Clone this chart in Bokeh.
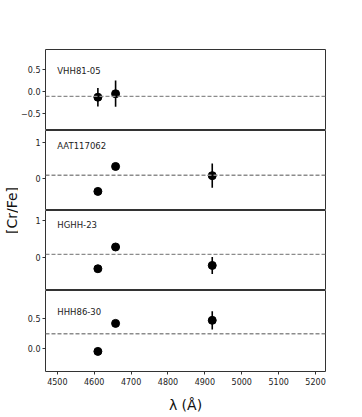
import math
from bokeh.plotting import figure
from bokeh.layouts import row, column
from bokeh.models import FixedTicker, Label, Span, ColumnDataSource
from bokeh.embed import file_html
from bokeh.resources import INLINE

# ---- data ----
stars = ["VHH81-05", "AAT117062", "HGHH-23", "HHH86-30"]
wl_vhh = [4610, 4658]
cr_vhh = [-0.13, -0.05]
err_vhh = [0.21, 0.30]
wl_aat = [4610, 4658, 4920]
cr_aat = [-0.34, 0.34, 0.09]
err_aat = [0.0, 0.0, 0.33]
wl_hghh = [4610, 4658, 4920]
cr_hghh = [-0.30, 0.29, -0.21]
err_hghh = [0.0, 0.0, 0.23]
wl_hhh = [4610, 4658, 4920]
cr_hhh = [-0.04, 0.42, 0.47]
err_hhh = [0.0, 0.0, 0.15]
means = [-0.11, 0.10, 0.09, 0.25]
y_ranges = [(-0.89, 0.96), (-0.86, 1.32), (-0.89, 1.28), (-0.37, 0.96)]
y_ticks = [[-0.5, 0.0, 0.5], [0, 1], [0, 1], [0.0, 0.5]]
y_tick_labels = [["\u22120.5", "0.0", "0.5"], ["0", "1"], ["0", "1"], ["0.0", "0.5"]]
label_y = [0.48, 0.9, 0.88, 0.61]
x_ticks = [4500, 4600, 4700, 4800, 4900, 5000, 5100, 5200]
x_range = (4468, 5227)

series = [(wl_vhh, cr_vhh, err_vhh), (wl_aat, cr_aat, err_aat),
          (wl_hghh, cr_hghh, err_hghh), (wl_hhh, cr_hhh, err_hhh)]

FONT = "DejaVu Sans"
frame_heights = [81, 80, 80, 81]
TOP = 49
BOTTOM = 42
figs = []
for i, name in enumerate(stars):
    last = (i == 3)
    first = (i == 0)
    p = figure(output_backend="svg", toolbar_location=None,
               frame_width=280, frame_height=frame_heights[i],
               x_range=x_range, y_range=y_ranges[i],
               min_border_left=27, min_border_right=10,
               min_border_top=TOP if first else 0,
               min_border_bottom=BOTTOM if last else 0)
    p.background_fill_color = "white"
    p.border_fill_color = "white"
    p.outline_line_color = "#333333"
    p.outline_line_width = 1
    p.outline_line_alpha = 1
    p.grid.visible = False

    wl, cr, er = series[i]
    lo = [c - e for c, e in zip(cr, er)]
    hi = [c + e for c, e in zip(cr, er)]
    src = ColumnDataSource(dict(x=wl, y=cr, lo=lo, hi=hi))
    p.add_layout(Span(location=means[i], dimension="width", line_color="#8c8c8c",
                      line_width=1.3, line_dash="4 2"))
    p.segment(x0="x", y0="lo", x1="x", y1="hi", source=src, line_color="black", line_width=1.6)
    p.scatter(x="x", y="y", source=src, size=8, color="black")

    p.add_layout(Label(x=4500, y=label_y[i], text=name, text_font=FONT,
                       text_font_size="8.5px", text_color="#222222",
                       text_align="left", text_baseline="middle"))

    ya = p.yaxis[0]
    ya.ticker = FixedTicker(ticks=y_ticks[i])
    ya.major_label_overrides = {t: l for t, l in zip(y_ticks[i], y_tick_labels[i])}
    ya.axis_line_color = None
    ya.major_tick_line_color = "#333333"
    ya.major_tick_out = 3
    ya.major_tick_in = 0
    ya.minor_tick_line_color = None
    ya.major_label_standoff = 2
    ya.major_label_text_font = FONT
    ya.major_label_text_font_size = "8px"
    ya.major_label_text_color = "#222222"

    xa = p.xaxis[0]
    if last:
        xa.ticker = FixedTicker(ticks=x_ticks)
        xa.axis_line_color = None
        xa.major_tick_line_color = "#333333"
        xa.major_tick_out = 3
        xa.major_tick_in = 0
        xa.minor_tick_line_color = None
        xa.major_label_standoff = 3
        xa.major_label_text_font = FONT
        xa.major_label_text_font_size = "8px"
        xa.major_label_text_color = "#222222"
        xa.axis_label = "\u03bb (\u00c5)"
        xa.axis_label_text_font = FONT
        xa.axis_label_text_font_size = "14px"
        xa.axis_label_text_font_style = "normal"
        xa.axis_label_text_color = "#111111"
        xa.axis_label_standoff = 9
    else:
        xa.visible = False
    figs.append(p)

total_h = TOP + sum(frame_heights) + BOTTOM
YLW = 18
yl = figure(output_backend="svg", toolbar_location=None, width=YLW, height=total_h,
            x_axis_type=None, y_axis_type=None, min_border=0,
            x_range=(0, YLW), y_range=(0, total_h))
yl.outline_line_color = None
yl.grid.visible = False
yl.add_layout(Label(x=11, y=total_h - 210, x_units="screen", y_units="screen",
                    text="[Cr/Fe]", angle=math.pi / 2, text_font=FONT,
                    text_font_size="14px", text_color="#111111",
                    text_align="center", text_baseline="middle"))

layout = row(yl, column(*figs, spacing=0), spacing=0)
open("out.html", "w").write(file_html(layout, INLINE))
